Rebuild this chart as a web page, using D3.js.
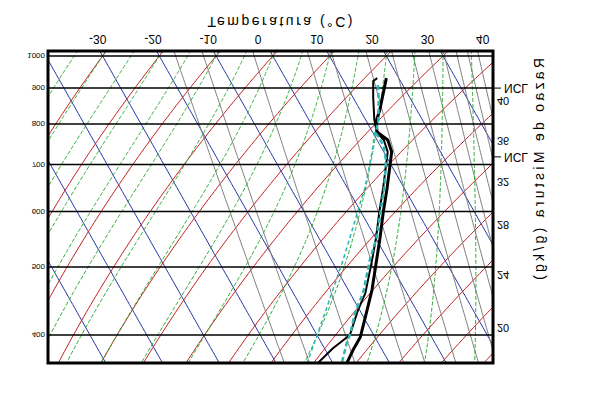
<!DOCTYPE html>
<html><head><meta charset="utf-8">
<script src="https://cdn.jsdelivr.net/npm/d3@7"></script>
<style>body{margin:0;background:#fff}svg{display:block}</style>
</head><body>
<svg id="c" width="600" height="400"></svg>
<script>
// ---------------- data ----------------
const pressureLevels = [1000, 900, 800, 700, 600, 500, 400];
const tempTicks = [-30, -20, -10, 0, 10, 20, 30, 40];
const isotherms = [-100, -90, -80, -70, -60, -50, -40, -30, -20, -10, 0, 10, 20, 30, 40, 50];
const dryAdiabats = [-40, -30, -20, -10, 0, 10, 20, 30, 40, 50, 60, 70, 80, 90, 100, 110, 120];
const moistAdiabats = [-40, -35, -30, -25, -20, -15, -10, -5, 0, 5, 10, 15, 20, 25, 30, 35, 40];
const mixingRatios = [1, 1.5, 3, 6, 8, 12, 16, 20, 24, 28, 32, 36, 40];
const mixLabelValues = [20, 24, 28, 32, 36, 40];
const mixLabelPressures = [409, 487, 574, 661, 756, 863];
const nclPressures = [900, 718];

// sounding series (pressure hPa, temperature °C)
const tempP = [930, 838, 805, 779, 759, 730, 699, 650, 597, 552, 512, 464, 434, 397, 381, 365];
const tempT = [17.8, 13.5, 11.6, 10.8, 11.9, 11.4, 9.8, 7.1, 3.8, 0.9, -2.0, -5.8, -8.7, -12.6, -15.1, -17.5];
const dewP = [930, 921, 874, 810, 777, 759, 730, 699, 650, 597, 552, 512, 459, 434, 400, 383, 365];
const dewT = [16.2, 15.2, 13.6, 11.5, 10.7, 11.2, 10.7, 9.1, 6.4, 3.1, 0.2, -2.8, -7.3, -10.3, -14.2, -18.5, -22.6];
const virtP = [909, 866, 810, 777, 747, 711, 650, 597, 552, 512, 459, 430, 400, 390, 365];
const virtT = [15.6, 14.3, 12.2, 10.5, 10.6, 9.6, 6.6, 3.3, 0.3, -3.2, -7.7, -11.1, -14.2, -15.5, -18.4];
const parcelP = [779, 727, 650, 603, 552, 512, 430, 365];
const parcelT = [10.4, 7.8, 3.2, -0.3, -4.4, -7.9, -16.4, -24.5];

// ---------------- layout ----------------
const svg = d3.select("#c");
const root = svg.append("g").attr("transform", "translate(0,400) scale(1,-1)");
const L = 48, R = 493, T0 = 37, B0 = 349;          // box in drawing coords
const yScale = d3.scaleLog().domain([1000, 400]).range([344, 344 - 304.5 * Math.log(2.5)]);
const xScale = d3.scaleLinear().domain([0, 10]).range([270, 326.75]);
const skew = 0.565;
const pMin = yScale.invert(T0), pMax = yScale.invert(B0);
const sx = (t, p) => xScale(t) + skew * (B0 - yScale(p));
const labelScale = d3.scaleLinear().domain([-30, 40]).range([89, 476]);

root.append("clipPath").attr("id", "clip").append("rect")
  .attr("x", L).attr("y", T0).attr("width", R - L).attr("height", B0 - T0);
const grid = root.append("g").attr("clip-path", "url(#clip)");

const presSamples = d3.range(0, 81).map(i => pMax * Math.pow(pMin / pMax, i / 80));
const line = d3.line().x(d => sx(d[1], d[0])).y(d => yScale(d[0]));

// thermodynamics
const es = t => 6.112 * Math.exp(17.67 * t / (t + 243.5));
const dewFromE = e => { const l = Math.log(e / 6.112); return 243.5 * l / (17.67 - l); };
function dTdp(t, p) {
  const Tk = t + 273.15, e = es(t), r = 0.622 * e / (p - e);
  const Rd = 287.04, Cp = 1005.7, Lv = 2.501e6, eps = 0.622;
  return (1 / p) * (Rd * Tk + Lv * r) / (Cp + (Lv * Lv * r * eps) / (Rd * Tk * Tk));
}
function moist(tw) {
  const step = (p0, p1) => {
    let t = tw, p = p0; const h = p1 > p0 ? 2 : -2; const out = [[p, t]];
    while ((h < 0 && p > p1) || (h > 0 && p < p1)) {
      const k1 = dTdp(t, p), k2 = dTdp(t + h / 2 * k1, p + h / 2),
            k3 = dTdp(t + h / 2 * k2, p + h / 2), k4 = dTdp(t + h * k3, p + h);
      t += h / 6 * (k1 + 2 * k2 + 2 * k3 + k4); p += h; out.push([p, t]);
    }
    return out;
  };
  const up = step(1000, pMin - 2), down = step(1000, pMax + 2).reverse();
  return down.concat(up.slice(1));
}

// isotherms (blue)
grid.selectAll(".iso").data(isotherms).join("path")
  .attr("d", t => line(presSamples.map(p => [p, t])))
  .attr("fill", "none").attr("stroke", "#2636a6").attr("stroke-width", 1);
// dry adiabats (red)
grid.selectAll(".dry").data(dryAdiabats).join("path")
  .attr("d", th => line(presSamples.map(p => [p, (th + 273.15) * Math.pow(p / 1000, 0.2857) - 273.15])))
  .attr("fill", "none").attr("stroke", "#c42020").attr("stroke-width", 1);
// mixing ratio (gray)
grid.selectAll(".mix").data(mixingRatios).join("path")
  .attr("d", w => line(presSamples.map(p => [p, dewFromE(w * p / (622 + w))])))
  .attr("fill", "none").attr("stroke", "#808080").attr("stroke-width", 1);
// moist adiabats (green dashed)
grid.selectAll(".moist").data(moistAdiabats).join("path")
  .attr("d", tw => line(moist(tw)))
  .attr("fill", "none").attr("stroke", "#22a82a").attr("stroke-width", 1).attr("stroke-dasharray", "4,2");
// isobars
grid.selectAll(".isobar").data(pressureLevels).join("line")
  .attr("x1", L).attr("x2", R).attr("y1", d => yScale(d)).attr("y2", d => yScale(d))
  .attr("stroke", "#000").attr("stroke-width", 1.5);

// sounding
const zip = (P, Tt) => P.map((p, i) => [p, Tt[i]]);
const snd = root.append("g").attr("clip-path", "url(#clip)");
snd.append("path").attr("d", line(zip(parcelP, parcelT))).attr("fill", "none")
  .attr("stroke", "#2fb4b4").attr("stroke-width", 1.5).attr("stroke-dasharray", "4,3");
snd.append("path").attr("d", line(zip(tempP, tempT))).attr("fill", "none")
  .attr("stroke", "#000").attr("stroke-width", 3).attr("stroke-linejoin", "round");
snd.append("path").attr("d", line(zip(dewP, dewT))).attr("fill", "none")
  .attr("stroke", "#000").attr("stroke-width", 2).attr("stroke-linejoin", "round");
snd.append("path").attr("d", line(zip(virtP, virtT))).attr("fill", "none")
  .attr("stroke", "#2fb4b4").attr("stroke-width", 2.5).attr("stroke-dasharray", "5,3");

// frame
root.append("rect").attr("x", L).attr("y", T0).attr("width", R - L).attr("height", B0 - T0)
  .attr("fill", "none").attr("stroke", "#000").attr("stroke-width", 3);

// pressure labels
root.selectAll(".pl").data(pressureLevels).join("text")
  .attr("x", 45).attr("y", d => yScale(d) + 3).attr("text-anchor", "end")
  .attr("font-family", "Liberation Sans, Arial, sans-serif").attr("font-size", 8).text(d => d);
// temperature labels
root.selectAll(".tl").data(tempTicks).join("text")
  .attr("x", d => labelScale(d)).attr("y", 365).attr("text-anchor", "start")
  .attr("font-family", "Liberation Sans, Arial, sans-serif").attr("font-size", 12)
  .text(d => d < 0 ? "-" + Math.abs(d) : d);
// title
root.append("text").attr("x", 280).attr("y", 383).attr("text-anchor", "middle")
  .attr("font-family", "Liberation Sans, Arial, sans-serif").attr("font-size", 14)
  .attr("textLength", 145).attr("lengthAdjust", "spacing").text("Temperatura (°C)");
// right title
root.append("text").attr("transform", "translate(544,231) rotate(-90)").attr("text-anchor", "middle")
  .attr("font-family", "Liberation Sans, Arial, sans-serif").attr("font-size", 14)
  .attr("textLength", 222).attr("lengthAdjust", "spacing").text("Razao de Mistura (g/kg)");
// mixing-ratio labels
root.selectAll(".ml").data(mixLabelValues).join("text")
  .attr("x", 497).attr("y", (d, i) => yScale(mixLabelPressures[i]) + 4)
  .attr("font-family", "Liberation Sans, Arial, sans-serif").attr("font-size", 11).text(d => d);
// NCL marks
root.selectAll(".nt").data(nclPressures).join("line")
  .attr("x1", R).attr("x2", 501).attr("y1", d => yScale(d)).attr("y2", d => yScale(d))
  .attr("stroke", "#000").attr("stroke-width", 1);
root.selectAll(".nl").data(nclPressures).join("text")
  .attr("x", 504).attr("y", d => yScale(d) + 4)
  .attr("font-family", "Liberation Sans, Arial, sans-serif").attr("font-size", 12).text("NCL");
</script>
</body></html>
